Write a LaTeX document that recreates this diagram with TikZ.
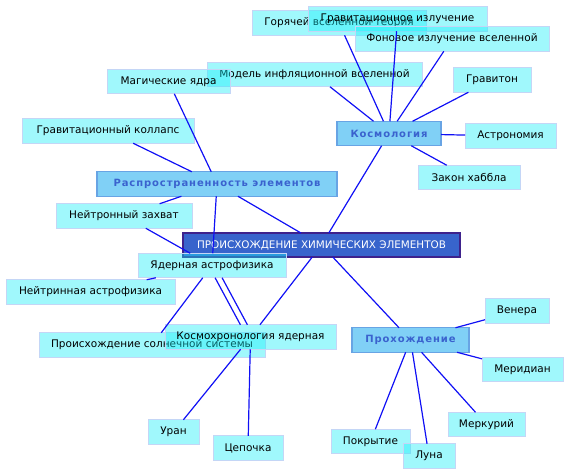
\documentclass[tikz,border=0pt]{standalone}
\usepackage{fontspec}
\setmainfont{DejaVu Sans}
\newfontfamily\catfont[LetterSpace=9]{DejaVu Sans Bold}
\definecolor{leaffill}{RGB}{18,238,248}
\definecolor{leafborder}{RGB}{196,214,246}
\definecolor{catfill}{RGB}{128,208,246}
\definecolor{catborder}{RGB}{104,164,228}
\definecolor{cattext}{RGB}{58,98,206}
\definecolor{rootfill}{RGB}{56,100,204}
\definecolor{rootborder}{RGB}{62,34,140}
\definecolor{edgeblue}{RGB}{16,16,245}
\tikzset{
  leaf/.style={draw=leafborder, fill=leaffill, fill opacity=0.4, text opacity=1, draw opacity=1,
    line width=1pt, inner sep=0pt, outer sep=0pt, minimum height=24.5pt, font=\fontsize{10.5}{12}\selectfont},
  cat/.style={draw=catborder, fill=catfill, line width=1.2pt, inner sep=0pt, outer sep=0pt,
    minimum height=24.5pt, text=cattext, font=\catfont\fontsize{10}{12}\selectfont},
  root/.style={draw=rootborder, fill=rootfill, line width=1.2pt, inner sep=0pt, outer sep=0pt,
    minimum height=24pt, text=white, font=\fontsize{10.4}{12}\selectfont},
  link/.style={draw=edgeblue, line width=1.2pt}
}
\begin{document}
\begin{tikzpicture}[x=1pt,y=-1pt]
\useasboundingbox (0,0) rectangle (569,475);
% root and categories
\node[root, minimum width=277pt] (root) at (321.5,245) {ПРОИСХОЖДЕНИЕ ХИМИЧЕСКИХ ЭЛЕМЕНТОВ};
\node[cat, minimum width=104pt] (kosmo) at (389,133.5) {Космология};
\node[cat, minimum width=240pt] (rasp) at (217,184) {Распространенность элементов};
\node[cat, minimum width=117pt] (proh) at (410.5,340) {Прохождение};
% leaves
\node[leaf, minimum width=174pt] (gor) at (339,23) {Горячей вселенной теория};
\node[leaf, minimum width=179pt] (grav) at (397.5,19) {Гравитационное излучение};
\node[leaf, minimum width=194pt] (fon) at (452,39) {Фоновое излучение вселенной};
\node[leaf, minimum width=215pt] (model) at (314.5,74.5) {Модель инфляционной вселенной};
\node[leaf, minimum width=78pt] (gravt) at (492,80) {Гравитон};
\node[leaf, minimum width=91pt] (astr) at (510.5,136) {Астрономия};
\node[leaf, minimum width=102pt] (hab) at (469,177.5) {Закон хаббла};
\node[leaf, minimum width=123pt] (mag) at (168.5,81.5) {Магические ядра};
\node[leaf, minimum width=172pt] (koll) at (108,131) {Гравитационный коллапс};
\node[leaf, minimum width=136pt] (neitr) at (124,216) {Нейтронный захват};
\node[leaf, minimum width=148pt] (yad) at (212,265.5) {Ядерная астрофизика};
\node[leaf, minimum width=169pt] (nutr) at (90.5,292) {Нейтринная астрофизика};
\node[leaf, minimum width=226pt] (sol) at (152,345) {Происхождение солнечной системы};
\node[leaf, minimum width=171pt] (chron) at (250.5,337) {Космохронология ядерная};
\node[leaf, minimum width=51pt] (uran) at (173.5,432) {Уран};
\node[leaf, minimum width=70pt] (cep) at (248,448) {Цепочка};
\node[leaf, minimum width=64pt] (ven) at (517,311) {Венера};
\node[leaf, minimum width=81pt] (mer) at (522.5,369.5) {Меридиан};
\node[leaf, minimum width=77pt] (merk) at (486.5,424.5) {Меркурий};
\node[leaf, minimum width=79pt] (pokr) at (370.5,441.5) {Покрытие};
\node[leaf, minimum width=52pt] (luna) at (429,456) {Луна};
% connectors
\draw[link] (root) -- (kosmo);
\draw[link] (root) -- (rasp);
\draw[link] (root) -- (proh);
\draw[link] (root) -- (chron);
\draw[link] (kosmo) -- (gor);
\draw[link] (kosmo) -- (grav);
\draw[link] (kosmo) -- (fon);
\draw[link] (kosmo) -- (model);
\draw[link] (kosmo) -- (gravt);
\draw[link] (kosmo) -- (astr);
\draw[link] (kosmo) -- (hab);
\draw[link] (rasp) -- (mag);
\draw[link] (rasp) -- (koll);
\draw[link] (rasp) -- (neitr);
\draw[link] (rasp) -- (yad);
\draw[link] (neitr) -- (yad);
\draw[link] (yad) -- (nutr);
\draw[link] (yad) -- (sol);
\draw[link, transform canvas={xshift=-3.5pt}] (yad) -- (chron);
\draw[link, transform canvas={xshift=3.5pt}] (yad) -- (chron);
\draw[link] (chron) -- (uran);
\draw[link] (chron) -- (cep);
\draw[link] (proh) -- (ven);
\draw[link] (proh) -- (mer);
\draw[link] (proh) -- (merk);
\draw[link] (proh) -- (pokr);
\draw[link] (proh) -- (luna);
\end{tikzpicture}
\end{document}
